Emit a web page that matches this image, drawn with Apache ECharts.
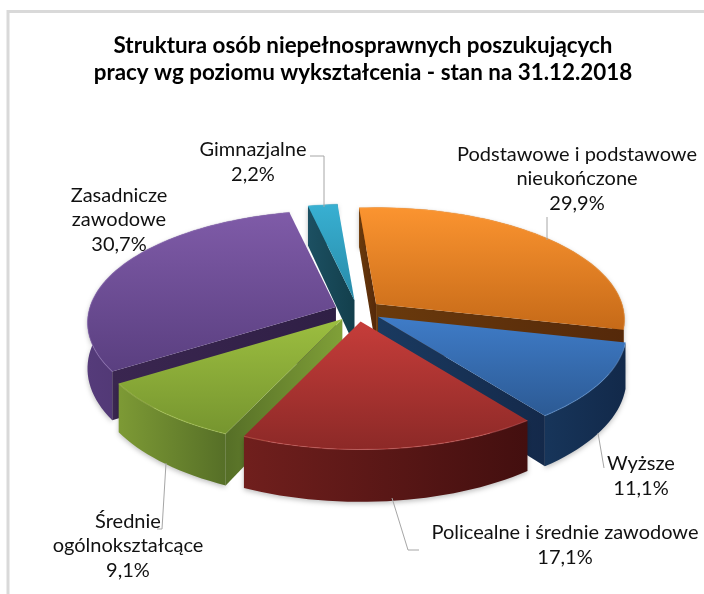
<!DOCTYPE html>
<html><head><meta charset="utf-8">
<style>html,body{margin:0;padding:0;background:#fff}#c{width:704px;height:594px}</style>
<script src="https://cdn.jsdelivr.net/npm/echarts@6/dist/echarts.min.js"></script>
</head><body><div id="c"></div>
<script>
const titleText = 'Struktura osób niepełnosprawnych poszukujących\npracy wg poziomu wykształcenia - stan na 31.12.2018';
const categories = ['Podstawowe i podstawowe\nnieukończone','Wyższe','Policealne i średnie zawodowe','Średnie\nogólnokształcące','Zasadnicze\nzawodowe','Gimnazjalne'];
const values = [29.9,11.1,17.1,9.1,30.7,2.2];
const drawRank = [1,3,5,4,2,0];
const topLight = ['#fb9430','#3f7cc8','#c63d3a','#9cbe40','#7f5ba8','#38b0d2'];
const topDark  = ['#c66a18','#2c5a94','#8c2927','#76952f','#5a3f80','#288aa8'];
const rimLight = ['#a85a12','#17355a','#701f1d','#7d9a35','#553b7a','#1e6478'];
const rimDark  = ['#7a400a','#12294a','#430f0f','#566f27','#3f2a5c','#164a5a'];
const wallLight= ['#6a3a0c','#1a3a60','#4a1212','#566f27','#3a2650','#1c5062'];
const wallDark = ['#55290a','#14294a','#3a0e0e','#80a038','#2f1f45','#133f4c'];
const edge     = ['#ffb060','#6aa0e0','#e56a66','#bcd860','#9a7cc0','#70d0e8'];

const leaders = [
  [[547,240],[547,217]],
  [[598,433],[604,468]],
  [[392,498],[408,550],[419,550]],
  [[166,463],[162,529],[157,529]],
  null,
  [[324,207],[324,156],[310,156]]
];
const labelAnchors = [[577,179],[641,476],[565,545],[128,546],[119,220],[253,162]];

const cx=358, cy=311, A=246, B=110, K=0.14, DEPTH=45, EXPL=0.097, START=-4.5;
const total = values.reduce((a,b)=>a+b,0);
const rad = d=>d*Math.PI/180;
function localProj(X,Y){const s=1/(1-K*Y);return [X*A*s,Y*B*s,s];}

function renderSlice(params, api){
  const i=params.dataIndex, v=api.value(0);
  let before=0; for(let k=0;k<i;k++) before+=values[k];
  const t0=START+before/total*360, t1=t0+v/total*360, tm=(t0+t1)/2;
  const ax=cx+Math.sin(rad(tm))*EXPL*A, ay=cy-Math.cos(rad(tm))*EXPL*B;
  const rim=[], bot=[];
  const n=Math.max(4,Math.ceil((t1-t0)/2));
  for(let j=0;j<=n;j++){
    const th=rad(t0+(t1-t0)*j/n);
    const p=localProj(Math.sin(th),-Math.cos(th));
    rim.push([ax+p[0],ay+p[1]]);
    bot.push([ax+p[0],ay+p[1]+DEPTH*p[2]]);
  }
  const apexB=[ax,ay+DEPTH];
  const z=drawRank[i]*10;
  const lin=(a,b,h)=>({type:'linear',x:0,y:0,x2:h?1:0,y2:h?0:1,colorStops:[{offset:0,color:a},{offset:1,color:b}]});
  const kids=[];
  kids.push({type:'polygon',z2:z,shape:{points:rim.concat(bot.slice().reverse())},
    style:{fill:lin(rimLight[i],rimDark[i],true),shadowBlur:5,shadowColor:'rgba(0,0,0,0.25)',shadowOffsetY:2}});
  const wall=(idx,show)=>{ if(!show) return;
    kids.push({type:'polygon',z2:z+1,shape:{points:[[ax,ay],rim[idx],bot[idx],apexB]},
      style:{fill:lin(wallLight[i],wallDark[i],true)}});
  };
  wall(0,Math.sin(rad(t0))<0);
  wall(n,Math.sin(rad(t1))>0);
  kids.push({type:'polygon',z2:z+2,shape:{points:[[ax,ay]].concat(rim)},
    style:{fill:lin(topLight[i],topDark[i],false)}});
  kids.push({type:'polyline',z2:z+3,shape:{points:rim},
    style:{fill:'none',stroke:edge[i],lineWidth:1.2,opacity:0.4}});
  return {type:'group',children:kids};
}

const FONT='Lato, "Noto Sans", sans-serif';
const pct=v=>v.toFixed(1).replace('.',',')+'%';
const gfx=[
  {type:'polyline',shape:{points:[[8,594],[8,11.5],[704,11.5]]},style:{fill:'none',stroke:'#d9d9d9',lineWidth:3}}
];
leaders.forEach(l=>{ if(l) gfx.push({type:'polyline',z:5,shape:{points:l},style:{fill:'none',stroke:'#a6a6a6',lineWidth:1}}); });
categories.forEach((c,i)=>{
  gfx.push({type:'text',z:6,x:labelAnchors[i][0],y:labelAnchors[i][1],
    style:{text:c+'\n'+pct(values[i]),fill:'#111',font:'20px '+FONT,lineHeight:24.5,align:'center',verticalAlign:'middle'}});
});

const chart=echarts.init(document.getElementById('c'),null,{renderer:'canvas'});
chart.setOption({
  animation:false,
  backgroundColor:'#ffffff',
  title:{text:titleText,left:358,top:27,textAlign:'center',
    textStyle:{fontFamily:FONT,fontWeight:'bold',fontSize:22.4,lineHeight:27,color:'#000'}},
  series:[{type:'custom',coordinateSystem:'none',renderItem:renderSlice,data:values.map(v=>[v])}],
  graphic:gfx
});
</script></body></html>
